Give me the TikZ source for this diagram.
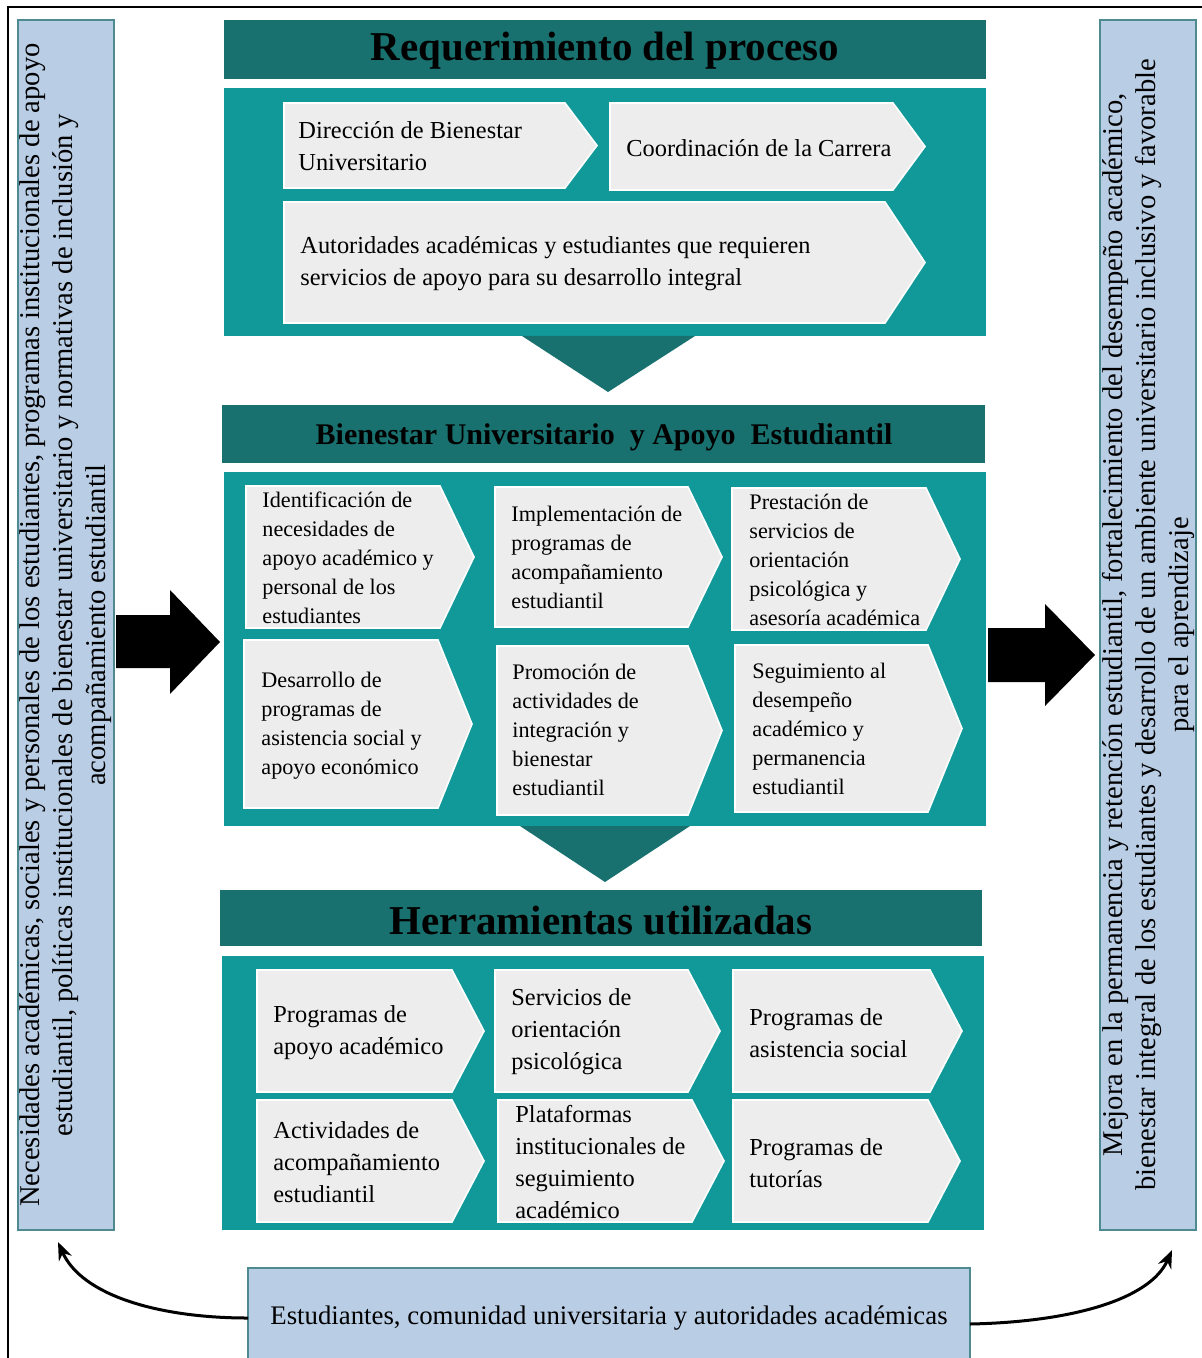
\documentclass[tikz,border=0pt]{standalone}
\usepackage{fontspec}
\setmainfont{Liberation Serif}
\usetikzlibrary{fit,arrows.meta}
\definecolor{hdr}{HTML}{18716F}
\definecolor{pnl}{HTML}{11999A}
\definecolor{chv}{HTML}{EDEDED}
\definecolor{side}{HTML}{B9CDE5}
\definecolor{sideb}{HTML}{4E8A92}
\newcommand\chevshape[5]{%
  \path[fill=chv, draw=white, line width=0.8pt] (#1,#2) -- ({#3-#5},#2) -- (#3,{(#2+#4)/2}) -- ({#3-#5},#4) -- (#1,#4) -- cycle;}
\tikzset{
  box/.style={inner sep=0pt, outer sep=0pt},
  hdrbox/.style={box, fill=hdr},
  pnlbox/.style={box, fill=pnl},
  sidebox/.style={box, fill=side, draw=sideb, line width=1.2pt},
  bigtitle/.style={inner sep=0pt, font=\fontsize{20.5}{24}\selectfont\bfseries},
  midtitle/.style={inner sep=0pt, font=\fontsize{15}{18}\selectfont\bfseries},
  ctA/.style={anchor=west, align=left, inner sep=0pt, font=\fontsize{12.2}{16}\selectfont},
  ctB/.style={anchor=west, align=left, inner sep=0pt, font=\fontsize{11.1}{14.5}\selectfont},
  sidetext/.style={rotate=90, align=center, inner sep=0pt, font=\fontsize{14.3}{16.5}\selectfont},
  bottext/.style={inner sep=0pt, font=\fontsize{13.4}{16}\selectfont},
  blockarrow/.style={fill=black},
  curvearrow/.style={line width=1.5pt, -{Stealth[length=9pt,width=7pt]}}
}
\begin{document}
\begin{tikzpicture}[x=0.5pt,y=-0.5pt]
\useasboundingbox (0,0) rectangle (1201,1358);
\fill[white] (0,0) rectangle (1201,1358);
\draw[line width=1.2pt] (8,7) rectangle (1215,1375);

% side panels
\node[sidebox, fit={(18,20) (114,1230)}] (L) {};
\node[sidetext] (Lt) at (L.center) {Necesidades académicas, sociales y personales de los estudiantes, programas institucionales de apoyo\\
estudiantil, políticas institucionales de bienestar universitario y normativas de inclusión y\\
acompañamiento estudiantil};
\node[sidebox, fit={(1100,20) (1196,1230)}] (R) {};
\node[sidetext] (Rt) at (R.center) {Mejora en la permanencia y retención estudiantil, fortalecimiento del desempeño académico,\\
bienestar integral de los estudiantes y desarrollo de un ambiente universitario inclusivo y favorable\\
para el aprendizaje};

% section 1
\node[hdrbox, fit={(224,20) (986,79)}] (h1) {};
\node[bigtitle] (h1t) at (605,51) {Requerimiento del proceso};
\node[pnlbox, fit={(224,88) (986,336)}] (p1) {};
\chevshape{284}{103}{597}{188}{32}
\chevshape{610}{103}{925}{190}{32}
\chevshape{284}{202}{925}{323}{40}
\node[ctA] (a1) at (298,146) {Dirección de Bienestar\\Universitario};
\node[ctA] (a2) at (626,148) {Coordinación de la Carrera};
\node[ctA] (a3) at (300,264) {Autoridades académicas y estudiantes que requieren\\servicios de apoyo para su desarrollo integral};
\fill[hdr] (522,336) -- (695,336) -- (608,392) -- cycle;

% section 2
\node[hdrbox, fit={(222,405) (985,463)}] (h2) {};
\node[midtitle] (h2t) at (604,437) {Bienestar\ Universitario\ \ y Apoyo\ \ Estudiantil};
\node[pnlbox, fit={(224,472) (986,826)}] (p2) {};
\chevshape{246}{486}{474}{628}{34}
\chevshape{495}{487}{722}{627}{34}
\chevshape{732}{488}{960}{630}{34}
\chevshape{244}{640}{472}{808}{34}
\chevshape{497}{646}{722}{815}{34}
\chevshape{735}{645}{962}{812}{34}
\node[ctB] (b1) at (262,558) {Identificación de\\necesidades de\\apoyo académico y\\personal de los\\estudiantes};
\node[ctB] (b2) at (511,557) {Implementación de\\programas de\\acompañamiento\\estudiantil};
\node[ctB] (b3) at (749,560) {Prestación de\\servicios de\\orientación\\psicológica y\\asesoría académica};
\node[ctB] (b4) at (261,726) {Desarrollo de\\programas de\\asistencia social y\\apoyo económico};
\node[ctB] (b5) at (512,730) {Promoción de\\actividades de\\integración y\\bienestar\\estudiantil};
\node[ctB] (b6) at (752,729) {Seguimiento al\\desempeño\\académico y\\permanencia\\estudiantil};
\fill[hdr] (520,826) -- (690,826) -- (605,882) -- cycle;

% section 3
\node[hdrbox, fit={(220,890) (982,946)}] (h3) {};
\node[bigtitle] (h3t) at (601,921) {Herramientas utilizadas};
\node[pnlbox, fit={(222,956) (984,1230)}] (p3) {};
\chevshape{257}{970}{484}{1092}{32}
\chevshape{495}{970}{720}{1092}{32}
\chevshape{733}{970}{962}{1092}{32}
\chevshape{257}{1100}{484}{1222}{32}
\chevshape{498}{1100}{724}{1222}{32}
\chevshape{733}{1100}{960}{1222}{32}
\node[ctA] (c1) at (273,1033) {Programas de\\apoyo académico};
\node[ctA] (c2) at (511,1032) {Servicios de\\orientación\\psicológica};
\node[ctA] (c3) at (749,1033) {Programas de\\asistencia social};
\node[ctA] (c4) at (273,1162) {Actividades de\\acompañamiento\\estudiantil};
\node[ctA] (c5) at (515,1162) {Plataformas\\institucionales de\\seguimiento\\académico};
\node[ctA] (c6) at (749,1163) {Programas de\\tutorías};

% block arrows
\fill[blockarrow] (116,615) -- (170,615) -- (170,590) -- (220,642) -- (170,694) -- (170,668) -- (116,668) -- cycle;
\fill[blockarrow] (988,628) -- (1045,628) -- (1045,604) -- (1095,655) -- (1045,706) -- (1045,682) -- (988,682) -- cycle;

% bottom box
\node[sidebox, fit={(248,1268) (970,1368)}] (B) {};
\node[bottext] (Bt) at (609,1318) {Estudiantes, comunidad universitaria\ y autoridades académicas};
\coordinate (Lend) at (58,1242);
\coordinate (Rend) at (1172,1250);
\draw[curvearrow] (B.west |- 0,1318) .. controls (160,1318) and (82,1296) .. (Lend);
\draw[curvearrow] (B.east |- 0,1324) .. controls (1070,1322) and (1150,1300) .. (Rend);
\end{tikzpicture}
\end{document}
